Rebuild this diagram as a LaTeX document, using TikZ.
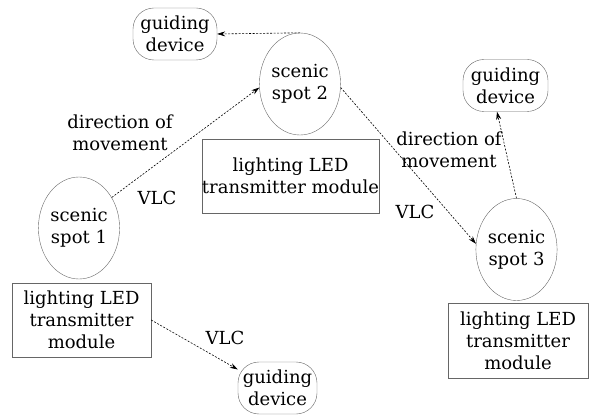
\documentclass[tikz,border=0pt]{standalone}
\usepackage{fontspec}
\setmainfont{DejaVu Serif}
\usepackage{tikz}
\usetikzlibrary{arrows.meta, positioning, shapes, shapes.geometric}

\begin{document}
\begin{tikzpicture}[x=1pt, y=-1pt,
  font=\fontsize{18}{22}\selectfont,
  spot/.style={draw=black!60, ellipse, inner sep=0pt, minimum width=75pt, minimum height=102pt, align=center},
  ledbox/.style={draw=black!60, rectangle, inner sep=0pt, minimum height=74pt, align=center},
  guide/.style={draw=black!60, rectangle, rounded corners=21pt, inner sep=0pt, minimum width=84pt, minimum height=52pt, align=center},
  link/.style={-{Stealth[length=8pt, width=5pt]}, dash pattern=on 2pt off 1.5pt, line width=0.6pt}]
  \useasboundingbox (0,0) rectangle (595,417);

  % Scenic spots
  \node[spot] (spot1) at (79,228) {scenic\\spot 1};
  \node[spot] (spot2) at (300,84) {scenic\\spot 2};
  \node[spot] (spot3) at (516.5,249.5) {scenic\\spot 3};

  % LED modules
  \node[ledbox, minimum width=139pt] (led1) at (81.5,320) {lighting LED\\transmitter\\module};
  \node[ledbox, minimum width=175pt] (led2) at (290.5,176) {lighting LED\\transmitter module};
  \node[ledbox, minimum width=140pt, minimum height=75pt] (led3) at (518,340.5) {lighting LED\\transmitter\\module};

  % Guiding devices
  \node[guide] (guide1) at (175,34) {guiding\\device};
  \node[guide, minimum width=85pt] (guide2) at (505.5,85.5) {guiding\\device};
  \node[guide, minimum width=79pt] (guide3) at (277.5,388) {guiding\\device};

  % Labels
  \node[align=center] (dir1) at (120,133) {direction of\\movement};
  \node[align=center] (dir2) at (449,150) {direction of\\movement};
  \node (vlc1) at (157,198) {VLC};
  \node (vlc2) at (415,212) {VLC};
  \node (vlc3) at (225,338) {VLC};

  % Arrows
  \draw[link] (spot1.43) -- (spot2.185);
  \draw[link] (spot2.-5) -- (spot3.172);
  \draw[link] (spot2.north) -- (guide1.east);
  \draw[link] (spot3.north) -- (guide2.252);
  \draw[link] (led1.east) -- (guide3.155);
\end{tikzpicture}
\end{document}
